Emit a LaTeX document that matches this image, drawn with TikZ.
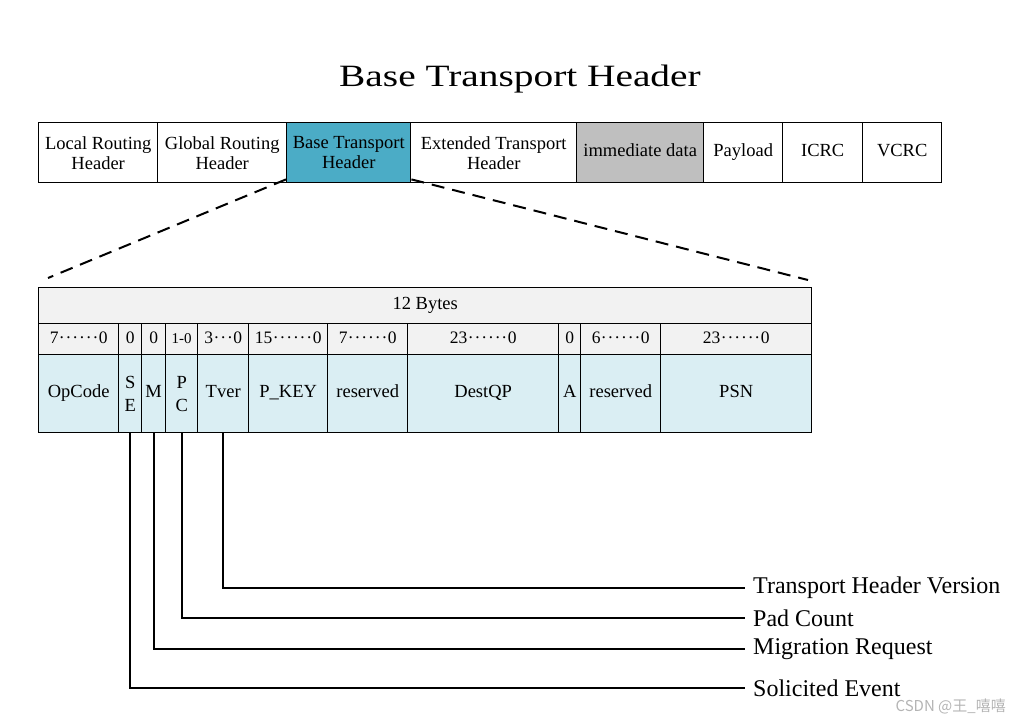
\documentclass[tikz,border=0pt]{standalone}
\usepackage{fontspec}
\setmainfont{Liberation Serif}
\newfontfamily\cjkfont{Noto Sans CJK SC}
\definecolor{bthteal}{HTML}{4BACC6}
\definecolor{fieldblue}{HTML}{DAEEF3}
\definecolor{hdrgrey}{HTML}{F2F2F2}
\definecolor{immgrey}{HTML}{BFBFBF}
\definecolor{wmgrey}{HTML}{B4B4B4}
\newcommand{\md}{\kern0.45pt·\kern0.45pt}
\newcommand{\sixd}{\md\md\md\md\md\md}
\newcommand{\threed}{\md\md\md}
\begin{document}
\begin{tikzpicture}[x=1pt,y=-1pt,
  cell/.style={draw=black, line width=1.4pt, inner sep=0pt, align=center,
    anchor=north west, font=\fontsize{18.5}{20}\selectfont},
  one/.style={text height=12.5pt, text depth=4pt},
  stacked/.style={font=\fontsize{18.5}{23}\selectfont},
  topcell/.style={cell, minimum height=60pt, fill=white},
  bytecell/.style={cell, one, minimum height=36pt, fill=hdrgrey},
  bitcell/.style={cell, one, minimum height=31pt, fill=hdrgrey, font=\fontsize{17.5}{20}\selectfont},
  fieldcell/.style={cell, minimum height=78pt, fill=fieldblue},
  zoomline/.style={line width=2pt, dash pattern=on 13pt off 8pt},
  callout/.style={line width=1.8pt},
  calloutlabel/.style={anchor=west, inner sep=0pt, font=\fontsize{24}{27}\selectfont}
]
\useasboundingbox (0,0) rectangle (1024,722);

% title
\node[inner sep=0pt, font=\fontsize{31}{34}\selectfont] (title) at (520,79)
  {\scalebox{1.27}[1]{Base Transport Header}};

% top packet bar
\node[topcell, minimum width=119pt] (lrh) at (38,122) {Local Routing\\Header};
\node[topcell, minimum width=129pt] (grh) at (157,122) {Global Routing\\Header};
\node[topcell, minimum width=124pt, fill=bthteal] (bth) at (286,122) {Base Transport\\Header};
\node[topcell, minimum width=166pt] (eth) at (410,122) {Extended Transport\\Header};
\node[topcell, one, minimum width=127pt, fill=immgrey] (imm) at (576,122) {immediate data};
\node[topcell, one, minimum width=79pt] (pay) at (703,122) {Payload};
\node[topcell, one, minimum width=80pt] (icrc) at (782,122) {ICRC};
\node[topcell, one, minimum width=79pt] (vcrc) at (862,122) {VCRC};

% zoom dashed lines
\coordinate (zl) at (48,278);
\coordinate (zr) at (808,280);
\draw[zoomline] ([yshift=4pt]bth.south west) -- (zl);
\draw[zoomline] ([yshift=4pt]bth.south east) -- (zr);

% 12 bytes row
\node[bytecell, minimum width=773pt] (bytes) at (38,287) {12 Bytes};

% bit row
\node[bitcell, minimum width=80pt]  (b1)  at (38,323)  {7\sixd0};
\node[bitcell, minimum width=23pt]  (b2)  at (118,323) {0};
\node[bitcell, minimum width=24pt]  (b3)  at (141,323) {0};
\node[bitcell, minimum width=32pt]  (b4)  at (165,323) {\fontsize{15}{18}\selectfont 1-0};
\node[bitcell, minimum width=51pt]  (b5)  at (197,323) {3\threed0};
\node[bitcell, minimum width=79pt]  (b6)  at (248,323) {15\sixd0};
\node[bitcell, minimum width=80pt]  (b7)  at (327,323) {7\sixd0};
\node[bitcell, minimum width=151pt] (b8)  at (407,323) {23\sixd0};
\node[bitcell, minimum width=22pt]  (b9)  at (558,323) {0};
\node[bitcell, minimum width=80pt]  (b10) at (580,323) {6\sixd0};
\node[bitcell, minimum width=151pt] (b11) at (660,323) {23\sixd0};

% field row
\node[fieldcell, one, minimum width=80pt]  (opcode) at (38,354)  {OpCode};
\node[fieldcell, stacked, minimum width=23pt] (se)  at (118,354) {S\\E};
\node[fieldcell, one, minimum width=24pt]  (m)      at (141,354) {M};
\node[fieldcell, stacked, minimum width=32pt] (pc)  at (165,354) {P\\C};
\node[fieldcell, one, minimum width=51pt]  (tver)   at (197,354) {Tver};
\node[fieldcell, one, minimum width=79pt]  (pkey)   at (248,354) {P\_KEY};
\node[fieldcell, one, minimum width=80pt]  (res1)   at (327,354) {reserved};
\node[fieldcell, one, minimum width=151pt] (destqp) at (407,354) {DestQP};
\node[fieldcell, one, minimum width=22pt]  (a)      at (558,354) {A};
\node[fieldcell, one, minimum width=80pt]  (res2)   at (580,354) {reserved};
\node[fieldcell, one, minimum width=151pt] (psn)    at (660,354) {PSN};

% callout labels
\node[calloutlabel] (ltver) at (753,588) {Transport Header Version};
\node[calloutlabel] (lpc)   at (753,618) {Pad Count};
\node[calloutlabel] (lm)    at (753,649) {Migration Request};
\node[calloutlabel] (lse)   at (753,688) {Solicited Event};

% callout connectors
\draw[callout] (tver.south) |- ([xshift=-8pt]ltver.west);
\draw[callout] (pc.south)   |- ([xshift=-8pt]lpc.west);
\draw[callout] (m.south)    |- ([xshift=-8pt]lm.west);
\draw[callout] (se.south)   |- ([xshift=-8pt]lse.west);

% watermark
\node[anchor=east, inner sep=0pt, text=wmgrey, font=\cjkfont\fontsize{15}{17}\selectfont] (wm) at (1006,706) {CSDN @王\_嘻嘻};
\end{tikzpicture}
\end{document}
